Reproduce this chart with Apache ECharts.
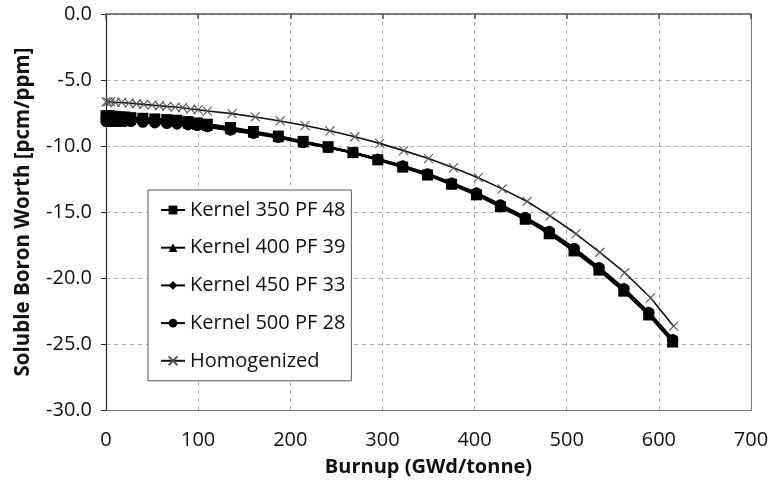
<!DOCTYPE html>
<html>
<head>
<meta charset="utf-8">
<script src="https://cdn.jsdelivr.net/npm/echarts@6/dist/echarts.min.js"></script>
<style>
html,body{margin:0;padding:0;background:#fff;}
#chart{width:774px;height:484px;}
</style>
</head>
<body>
<div id="chart"></div>
<script>
// ---- Data ----
var burnupKernel = [0, 3, 6, 9, 12, 15, 20, 27, 40, 53, 66, 77, 89, 99, 110, 135, 160, 187, 214, 241, 268, 295, 322, 349, 375, 402, 428, 455, 481, 508, 535, 562, 589, 615];
var kernel350 = [-7.7, -7.7, -7.75, -7.75, -7.8, -7.8, -7.8, -7.85, -7.9, -7.95, -8.0, -8.05, -8.15, -8.25, -8.35, -8.6, -8.9, -9.25, -9.65, -10.05, -10.5, -11.05, -11.6, -12.2, -12.9, -13.7, -14.6, -15.55, -16.65, -17.95, -19.4, -21.0, -22.8, -24.85];
var kernel400 = [-7.85, -7.85, -7.85, -7.9, -7.9, -7.9, -7.95, -7.95, -8.0, -8.05, -8.1, -8.15, -8.25, -8.35, -8.45, -8.7, -8.95, -9.3, -9.7, -10.1, -10.5, -11.0, -11.55, -12.15, -12.85, -13.65, -14.55, -15.5, -16.55, -17.85, -19.3, -20.9, -22.7, -24.75];
var kernel450 = [-7.95, -7.95, -7.95, -7.95, -8.0, -8.0, -8.0, -8.0, -8.05, -8.1, -8.15, -8.2, -8.3, -8.4, -8.5, -8.75, -9.0, -9.3, -9.7, -10.1, -10.5, -11.0, -11.55, -12.15, -12.85, -13.6, -14.5, -15.45, -16.5, -17.8, -19.25, -20.85, -22.65, -24.7];
var kernel500 = [-8.15, -8.15, -8.15, -8.15, -8.15, -8.15, -8.15, -8.15, -8.2, -8.25, -8.3, -8.35, -8.4, -8.45, -8.55, -8.8, -9.05, -9.35, -9.75, -10.1, -10.5, -11.0, -11.5, -12.1, -12.8, -13.55, -14.45, -15.4, -16.45, -17.75, -19.2, -20.8, -22.6, -24.65];
var burnupHomog = [0, 2, 5, 10, 17, 25, 33, 41, 50, 58, 66, 75, 83, 92, 100, 110, 137, 162, 189, 216, 243, 270, 297, 323, 350, 377, 404, 430, 457, 482, 510, 536, 563, 591, 616];
var homogenized = [-6.65, -6.65, -6.65, -6.7, -6.7, -6.75, -6.8, -6.85, -6.9, -6.95, -7.0, -7.05, -7.1, -7.2, -7.25, -7.35, -7.55, -7.8, -8.1, -8.45, -8.85, -9.3, -9.8, -10.35, -10.95, -11.65, -12.4, -13.25, -14.2, -15.3, -16.65, -18.05, -19.6, -21.5, -23.65];
var seriesNames = ['Kernel 350 PF 48', 'Kernel 400 PF 39', 'Kernel 450 PF 33', 'Kernel 500 PF 28', 'Homogenized'];
var xTicks = [0, 700, 100];
var yTicks = [-30, 0, 5];

function pairs(xs, ys) {
  var out = [];
  for (var i = 0; i < xs.length; i++) out.push([xs[i], ys[i]]);
  return out;
}

var FONT = "'Open Sans', 'Noto Sans', sans-serif";
var crossPath = 'path://M0,0L10,10M10,0L0,10';

function kernelSeries(name, ys, symbol, size) {
  return {
    name: name, type: 'line', xAxisIndex: 0, yAxisIndex: 0,
    data: pairs(burnupKernel, ys),
    symbol: symbol, symbolSize: size, showSymbol: true,
    lineStyle: { color: '#000', width: 2.5 },
    itemStyle: { color: '#000', borderColor: '#000', borderWidth: 0 },
    animation: false
  };
}

var chart = echarts.init(document.getElementById('chart'), null, { renderer: 'canvas' });
chart.setOption({
  backgroundColor: '#fff',
  animation: false,
  textStyle: { fontFamily: FONT },
  grid: { left: 106, right: 23, top: 14, bottom: 74, containLabel: false },
  legend: {
    orient: 'vertical', left: 148, top: 190,
    data: seriesNames,
    backgroundColor: '#fff',
    borderColor: '#555', borderWidth: 1,
    padding: [9, 6, 9, 12],
    itemWidth: 24, itemHeight: 11, itemGap: 15.7,
    textStyle: { fontFamily: FONT, fontSize: 20, color: '#111', lineHeight: 22 }
  },
  xAxis: [{
    type: 'value', position: 'bottom',
    min: xTicks[0], max: xTicks[1], interval: xTicks[2],
    name: 'Burnup (GWd/tonne)', nameLocation: 'middle', nameGap: 47,
    nameTextStyle: { fontFamily: FONT, fontSize: 20, fontWeight: 'bold', color: '#111' },
    axisLine: { show: true, onZero: false, lineStyle: { color: '#777', width: 1 } },
    axisTick: { show: false },
    axisLabel: { margin: 20, fontSize: 20, color: '#111', fontFamily: FONT },
    splitLine: { show: true, lineStyle: { color: '#b0b0b0', type: [4, 4], width: 1 } }
  }, {
    type: 'value', position: 'top',
    min: xTicks[0], max: xTicks[1], interval: xTicks[2],
    axisLine: { show: true, onZero: false, lineStyle: { color: '#555', width: 1.5 } },
    axisTick: { show: true, inside: true, length: 5, lineStyle: { color: '#555', width: 1.5 } },
    axisLabel: { show: false },
    splitLine: { show: false }
  }],
  yAxis: [{
    type: 'value', position: 'left',
    min: yTicks[0], max: yTicks[1], interval: yTicks[2],
    name: 'Soluble Boron Worth [pcm/ppm]', nameLocation: 'middle', nameGap: 72, nameRotate: 90,
    nameTextStyle: { fontFamily: FONT, fontSize: 20.5, fontWeight: 'bold', color: '#111' },
    axisLine: { show: true, onZero: false, lineStyle: { color: '#222', width: 1.2 } },
    axisTick: { show: true, inside: false, length: 5, lineStyle: { color: '#222' } },
    axisLabel: { margin: 14, fontSize: 20, color: '#111', fontFamily: FONT,
      formatter: function (v) { return v.toFixed(1); } },
    splitLine: { show: true, lineStyle: { color: '#b0b0b0', type: [4, 4], width: 1 } }
  }, {
    type: 'value', position: 'right',
    min: yTicks[0], max: yTicks[1], interval: yTicks[2],
    axisLine: { show: true, onZero: false, lineStyle: { color: '#777', width: 1 } },
    axisTick: { show: false }, axisLabel: { show: false }, splitLine: { show: false }
  }],
  series: [
    {
      name: seriesNames[4], type: 'line', xAxisIndex: 0, yAxisIndex: 0,
      data: pairs(burnupHomog, homogenized),
      symbol: crossPath, symbolSize: 9, showSymbol: true,
      lineStyle: { color: '#111', width: 1.6 },
      itemStyle: { color: 'rgba(0,0,0,0)', borderColor: '#555', borderWidth: 1.1 },
      animation: false
    },
    kernelSeries(seriesNames[0], kernel350, 'rect', 11),
    kernelSeries(seriesNames[1], kernel400, 'triangle', 11),
    kernelSeries(seriesNames[2], kernel450, 'diamond', 12),
    kernelSeries(seriesNames[3], kernel500, 'circle', 11)
  ]
});
</script>
</body>
</html>
